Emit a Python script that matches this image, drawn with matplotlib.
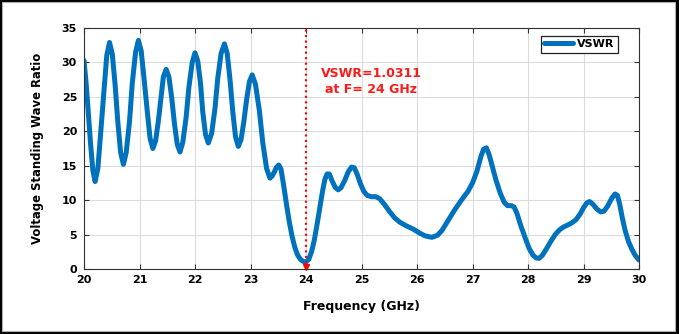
import matplotlib.pyplot as plt
from matplotlib.patches import Rectangle

plt.rcParams['font.family'] = ['DejaVu Sans']
plt.rcParams['font.weight'] = 'bold'

# values
freq = [20.0, 20.04, 20.08, 20.12, 20.16, 20.2,
        20.25, 20.3, 20.36, 20.41, 20.46,
        20.51, 20.56, 20.61, 20.66, 20.71,
        20.76, 20.82, 20.87, 20.93, 20.98,
        21.03, 21.08, 21.14, 21.19, 21.24,
        21.29, 21.34, 21.39, 21.43, 21.48,
        21.53, 21.58, 21.63, 21.68, 21.73,
        21.78, 21.84, 21.89, 21.95, 22.0,
        22.05, 22.1, 22.14, 22.19, 22.24,
        22.3, 22.36, 22.41, 22.47, 22.53,
        22.58, 22.63, 22.68, 22.73, 22.78,
        22.83, 22.88, 22.93, 22.98, 23.03,
        23.09, 23.16, 23.22, 23.29, 23.35,
        23.39, 23.43, 23.47, 23.51,
        23.55, 23.6, 23.65, 23.7, 23.75, 23.8, 23.85, 23.9, 23.95, 24.0,
        24.05, 24.1, 24.15, 24.2, 24.25, 24.3, 24.34, 24.38, 24.42, 24.47,
        24.53, 24.58, 24.63, 24.7, 24.76, 24.82, 24.87, 24.92, 24.98, 25.04,
        25.1, 25.18, 25.26, 25.33, 25.42, 25.51, 25.6, 25.69, 25.8, 25.93,
        26.05, 26.15, 26.27, 26.37, 26.45, 26.55, 26.68, 26.8, 26.92, 27.0,
        27.08, 27.15, 27.2, 27.25, 27.3, 27.36, 27.42, 27.5, 27.57, 27.63,
        27.7, 27.75, 27.8, 27.87, 27.95, 28.02, 28.09, 28.15, 28.2, 28.26,
        28.33, 28.41, 28.49, 28.57, 28.64, 28.72, 28.79, 28.87, 28.94, 29.0,
        29.06, 29.11, 29.17, 29.24, 29.31, 29.37, 29.44, 29.51, 29.57, 29.61,
        29.65, 29.7, 29.75, 29.81, 29.87, 29.93, 30.0]
vswr = [30.3, 26.8, 22.5, 18.0, 14.3, 12.7,
        14.6, 19.7, 25.9, 31.0, 32.9,
        31.2, 26.8, 21.3, 16.9, 15.2,
        16.9, 21.4, 27.0, 31.5, 33.2,
        31.7, 27.8, 22.9, 19.0, 17.5,
        18.6, 21.5, 25.0, 27.9, 29.0,
        27.9, 24.9, 21.1, 18.1, 17.0,
        18.4, 22.0, 26.4, 30.0, 31.4,
        30.2, 26.9, 22.8, 19.5, 18.3,
        19.7, 23.3, 27.7, 31.3, 32.7,
        31.3, 27.6, 22.9, 19.2, 17.8,
        18.8, 21.4, 24.6, 27.2, 28.2,
        26.8, 23.0, 18.4, 14.6, 13.2,
        13.5, 14.1, 14.8, 15.1,
        14.5, 12.0, 9.3, 6.8, 4.7, 3.1, 2.0, 1.4, 1.1, 1.03,
        1.4, 2.5, 4.2, 6.5, 9.0, 11.4, 13.0, 13.8, 13.8, 12.8,
        11.8, 11.5, 11.8, 12.9, 14.1, 14.8, 14.7, 13.8, 12.4, 11.3,
        10.7, 10.5, 10.5, 10.2, 9.3, 8.3, 7.4, 6.8, 6.3, 5.8,
        5.2, 4.8, 4.6, 4.9, 5.6, 6.9, 8.6, 10.0, 11.3, 12.5,
        14.2, 16.3, 17.4, 17.6, 16.6, 14.8, 13.0, 11.0, 9.7, 9.2,
        9.2, 9.0, 8.1, 6.3, 4.5, 3.0, 2.0, 1.6, 1.55, 2.0,
        2.9, 4.0, 5.0, 5.7, 6.1, 6.4, 6.7, 7.2, 8.0, 8.9,
        9.6, 9.8, 9.4, 8.7, 8.3, 8.4, 9.2, 10.3, 10.9, 10.7,
        9.5, 7.4, 5.6, 4.0, 2.9, 2.0, 1.3]
f_min = 24
vswr_min = 1.0311

fig = plt.figure(figsize=(6.79, 3.34), dpi=100)
fig.patch.set_facecolor('black')
fig.add_artist(Rectangle((2/679, 3/334), 673/679, 329/334, transform=fig.transFigure,
                         facecolor='white', edgecolor='#b0b0b0', lw=0.8, zorder=-1))

ax = fig.add_axes([84/679, 65/334, 555/679, 241/334])
ax.plot(freq, vswr, color='#0072BD', lw=3.6, label='VSWR',
        solid_capstyle='round', solid_joinstyle='round')
ax.plot([f_min, f_min], [0, 35], color='#ff0000', ls=':', lw=1.5)
ax.plot([f_min], [0.35], marker='v', color='#ff0000', ms=5, clip_on=False)
ax.text(25.18, 27.3, 'VSWR=%.4f\nat F= %d GHz' % (vswr_min, f_min), color='#ff1a1a',
        fontsize=9, fontweight='bold', ha='center', va='center', multialignment='center',
        linespacing=1.3)

ax.set_xlim(20, 30)
ax.set_ylim(0, 35)
ax.set_xticks(range(20, 31))
ax.set_yticks(range(0, 36, 5))
ax.grid(True, color='#dcdcdc', lw=0.8)
ax.set_axisbelow(True)
ax.tick_params(direction='in', top=True, right=True, labelsize=8, color='#333333',
               length=3.5, width=0.8)
ax.tick_params(axis='x', pad=4)
ax.tick_params(axis='y', pad=5)
for s in ax.spines.values():
    s.set_color('#333333')
    s.set_linewidth(0.8)
for lab in ax.get_xticklabels() + ax.get_yticklabels():
    lab.set_fontweight('bold')

ax.set_xlabel('Frequency (GHz)', fontsize=9, fontweight='bold', labelpad=11)
ax.set_ylabel('Voltage Standing Wave Ratio', fontsize=8.4, fontweight='bold', labelpad=13)

leg = ax.legend(loc='upper right', bbox_to_anchor=(0.962, 0.967), borderaxespad=0,
                fontsize=8, handlelength=2.6, fancybox=False, framealpha=1,
                borderpad=0.3, handletextpad=0.4)
leg.get_frame().set_edgecolor('#222222')
leg.get_frame().set_linewidth(0.9)

plt.savefig('out.png', dpi=100, facecolor=fig.get_facecolor())
